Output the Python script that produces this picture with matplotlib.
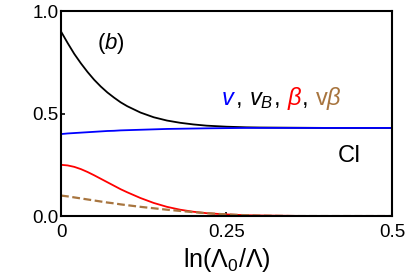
import matplotlib
matplotlib.use("Agg")
import matplotlib.pyplot as plt

plt.rcParams['font.family'] = ['Liberation Sans', 'DejaVu Sans']
plt.rcParams['mathtext.fontset'] = 'custom'
plt.rcParams['mathtext.rm'] = 'Liberation Sans'
plt.rcParams['mathtext.it'] = 'Liberation Sans:italic'

# flow parameter ln(Lambda0/Lambda)
ell = [0.0, 0.01, 0.02, 0.03, 0.04, 0.05, 0.06, 0.07, 0.08, 0.09, 0.10,
       0.12, 0.14, 0.16, 0.18, 0.20, 0.22, 0.25, 0.28, 0.30, 0.35, 0.40, 0.45, 0.50]

v_B = [0.900, 0.844, 0.791, 0.745, 0.703, 0.665, 0.632, 0.603, 0.578, 0.555, 0.536,
       0.505, 0.482, 0.466, 0.455, 0.447, 0.441, 0.436, 0.433, 0.432, 0.431, 0.430, 0.430, 0.430]
v = [0.400, 0.403, 0.405, 0.407, 0.409, 0.411, 0.413, 0.415, 0.416, 0.418, 0.419,
     0.421, 0.423, 0.425, 0.426, 0.427, 0.428, 0.429, 0.430, 0.430, 0.430, 0.430, 0.430, 0.430]
beta = [0.250, 0.247, 0.240, 0.229, 0.215, 0.199, 0.182, 0.165, 0.148, 0.131, 0.116,
        0.088, 0.064, 0.045, 0.031, 0.021, 0.014, 0.008, 0.004, 0.003, 0.001, 0.000, 0.000, 0.000]
v_beta = [0.100, 0.096, 0.091, 0.086, 0.081, 0.076, 0.071, 0.066, 0.062, 0.057, 0.053,
          0.045, 0.038, 0.031, 0.025, 0.019, 0.014, 0.008, 0.004, 0.002, 0.000, 0.000, 0.000, 0.000]

brown = '#a8753f'

fig = plt.figure(figsize=(4.07, 2.77), dpi=100)
ax = fig.add_axes([0.150, 0.220, 0.813, 0.740])

ax.plot(ell, v_B, color='black', lw=1.3)
ax.plot(ell, v, color='blue', lw=1.3)
ax.plot(ell, beta, color='red', lw=1.3)
ax.plot(ell, v_beta, color=brown, lw=1.6, linestyle=(0, (3.5, 1.6)))

ax.set_xlim(0, 0.5)
ax.set_ylim(0, 1.0)
ax.set_xticks([0, 0.25, 0.5])
ax.set_xticklabels(['0', '0.25', '0.5'])
ax.set_yticks([0, 0.5, 1.0])
ax.set_yticklabels(['0.0', '0.5', '1.0'])
ax.tick_params(direction='in', length=3, width=1.2, labelsize=13.5)
ax.tick_params(axis='x', pad=6)
ax.tick_params(axis='y', pad=2)
for s in ax.spines.values():
    s.set_linewidth(1.5)

ax.set_xlabel(r'ln($\Lambda_0$/$\Lambda$)', fontsize=18, labelpad=3)

ax.text(0.0755, 0.84, r'($b$)', fontsize=16, ha='center', va='center')
ax.text(0.436, 0.295, 'CI', fontsize=17, ha='center', va='center')

# coloured legend text, pieces placed one after another on a shared baseline
pieces = [(r'$v$', 'blue'), (', ', 'black'), (r'$v_B$', 'black'), (', ', 'black'),
          (r'$\beta$', 'red'), (', ', 'black'), (r'v$\beta$', brown)]
renderer = fig.canvas.get_renderer()
x0, y0 = ax.transData.transform((0.242, 0.54))
for txt, col in pieces:
    xa, ya = ax.transData.inverted().transform((x0, y0))
    t = ax.text(xa, ya, txt, color=col, fontsize=17, va='baseline', ha='left')
    x0 += t.get_window_extent(renderer).width

fig.savefig('out.png', dpi=100)
